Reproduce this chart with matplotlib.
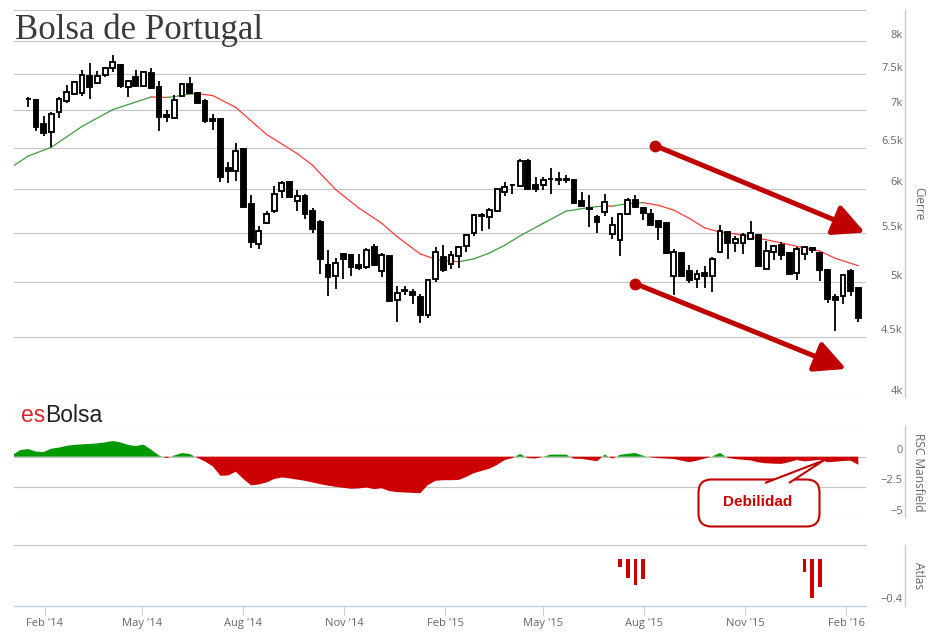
import matplotlib
matplotlib.use("Agg")
import matplotlib.pyplot as plt
import matplotlib.dates as mdates
import matplotlib.transforms as mtransforms
from matplotlib.patches import Rectangle, FancyBboxPatch, Polygon
from matplotlib.ticker import NullLocator
import numpy as np
import pandas as pd

# weekly candles, first week closing 2014-01-17
first_week = "2014-01-17"
opens = [7150, 7130, 6800, 6705, 6965, 7115, 7210, 7230, 7470, 7370,
         7485, 7585, 7635, 7310, 7455, 7335, 7520, 7315, 6930, 6890,
         7185, 7355, 7230, 7125, 6870, 6870, 6250, 6210, 6485, 5820,
         5390, 5610, 5750, 5970, 6075, 5860, 5915, 5750, 5625, 5170,
         5060, 5280, 5270, 5175, 5150, 5355, 5115, 5260, 4835, 4915,
         4905, 4860, 4690, 5030, 5250, 5185, 5260, 5365, 5505, 5685,
         5675, 5750, 5965, 6040, 6035, 6335, 6050, 6050, 6110, 6105,
         6105, 6100, 5860, 5780, 5680, 5740, 5495, 5430, 5710, 5870,
         5785, 5710, 5635, 5610, 5065, 5295, 5110, 5030, 5090, 5065,
         5305, 5515, 5400, 5395, 5445, 5480, 5135, 5310, 5380, 5295,
         5090, 5285, 5345, 5295, 5125, 4860, 4865, 5110, 4950]
highs = [7180, 7140, 6910, 6970, 7170, 7345, 7395, 7560, 7660, 7550,
         7610, 7790, 7650, 7415, 7560, 7550, 7585, 7395, 7000, 7195,
         7370, 7465, 7245, 7140, 6945, 6880, 6315, 6560, 6490, 5925,
         5580, 5750, 6030, 6090, 6090, 5990, 5935, 5780, 5645, 5325,
         5245, 5295, 5285, 5285, 5345, 5390, 5295, 5265, 4965, 4965,
         4935, 4890, 5030, 5355, 5380, 5320, 5365, 5495, 5710, 5720,
         5780, 6010, 6075, 6060, 6355, 6355, 6140, 6140, 6245, 6205,
         6160, 6105, 5960, 5925, 5700, 5935, 5680, 5720, 5895, 5930,
         5790, 5765, 5640, 5620, 5335, 5300, 5175, 5125, 5160, 5250,
         5590, 5520, 5475, 5500, 5630, 5495, 5420, 5380, 5405, 5305,
         5355, 5370, 5360, 5300, 5130, 4890, 5080, 5135, 4955]
lows = [7030, 6715, 6650, 6505, 6890, 7095, 7200, 7185, 7150, 7365,
        7455, 7535, 7300, 7175, 7325, 7325, 7285, 6715, 6835, 6890,
        7185, 7220, 7085, 6825, 6725, 6080, 6070, 6090, 5775, 5345,
        5335, 5600, 5720, 5895, 5895, 5750, 5655, 5510, 5080, 4870,
        4935, 5030, 5060, 5125, 5135, 5160, 5050, 4810, 4625, 4875,
        4795, 4620, 4665, 5005, 5105, 5135, 5140, 5310, 5470, 5525,
        5550, 5735, 5915, 5935, 6035, 5990, 5960, 5980, 5940, 6045,
        6070, 5840, 5800, 5575, 5510, 5685, 5445, 5260, 5700, 5785,
        5645, 5590, 5430, 5285, 4875, 5060, 4995, 4945, 4950, 4905,
        5295, 5230, 5310, 5285, 5430, 5150, 5130, 5220, 5220, 5080,
        5025, 5220, 5295, 5015, 4805, 4550, 4790, 4865, 4625]
closes = [7140, 6770, 6690, 6945, 7150, 7240, 7385, 7485, 7310, 7470,
          7585, 7675, 7325, 7405, 7335, 7535, 7300, 6905, 6895, 7130,
          7355, 7230, 7095, 6845, 6845, 6145, 6210, 6455, 5795, 5410,
          5525, 5710, 5945, 6070, 5900, 5915, 5710, 5550, 5230, 5050,
          5190, 5235, 5150, 5140, 5330, 5175, 5275, 4820, 4895, 4930,
          4875, 4690, 5025, 5310, 5125, 5275, 5355, 5480, 5700, 5705,
          5760, 5995, 6015, 6050, 6335, 5995, 6000, 6100, 6120, 6120,
          6120, 5840, 5805, 5765, 5625, 5850, 5590, 5710, 5865, 5795,
          5720, 5595, 5565, 5295, 5305, 5065, 5020, 5080, 5065, 5235,
          5525, 5395, 5440, 5480, 5510, 5160, 5320, 5370, 5270, 5080,
          5335, 5355, 5330, 5125, 4845, 4835, 5070, 4920, 4665]

# moving average of the close
ma_dates = ["2014-01-03", "2014-01-17", "2014-02-07", "2014-03-07", "2014-04-04",
            "2014-05-09", "2014-05-16", "2014-05-23", "2014-05-30", "2014-06-13",
            "2014-06-20", "2014-06-27", "2014-07-04", "2014-07-25", "2014-08-22",
            "2014-09-19", "2014-10-03", "2014-10-24", "2014-11-14", "2014-12-05",
            "2014-12-19", "2015-01-09", "2015-01-23", "2015-02-13", "2015-02-27",
            "2015-03-13", "2015-03-27", "2015-04-10", "2015-05-01", "2015-05-22",
            "2015-06-12", "2015-06-26", "2015-07-03", "2015-07-17", "2015-07-31",
            "2015-08-14", "2015-08-28", "2015-09-11", "2015-09-25", "2015-10-09",
            "2015-10-23", "2015-11-13", "2015-12-04", "2015-12-25", "2016-01-08",
            "2016-01-22", "2016-02-12"]
ma_values = [6270, 6395, 6505, 6775, 7000, 7175, 7170, 7168, 7180, 7215,
             7222, 7208, 7194, 7030, 6670, 6425, 6280, 5990, 5780, 5610,
             5465, 5285, 5230, 5205, 5235, 5295, 5375, 5475, 5610, 5745,
             5785, 5805, 5800, 5830, 5840, 5810, 5755, 5665, 5560, 5515,
             5495, 5450, 5400, 5345, 5315, 5240, 5165]

# RSC Mansfield, weekly from 2014-01-03
rsc_start = "2014-01-03"
rsc_values = [0.17, 0.55, 0.63, 0.42, 0.38, 0.66, 0.75, 0.9, 0.98, 1.02,
              1.06, 1.1, 1.18, 1.3, 1.18, 0.97, 0.88, 1.0, 0.58, 0.1,
              -0.11, 0.1, 0.3, 0.22, -0.1, -0.4, -0.8, -1.58, -1.56, -1.25,
              -1.85, -2.38, -2.3, -2.14, -1.85, -1.72, -1.8, -1.9, -2.0, -2.14,
              -2.28, -2.4, -2.5, -2.58, -2.66, -2.63, -2.56, -2.69, -2.62, -2.86,
              -2.93, -2.97, -3.0, -3.03, -2.35, -2.0, -1.95, -1.95, -1.93, -1.68,
              -1.36, -1.18, -1.0, -0.68, -0.28, -0.11, 0.22, -0.12, -0.15, 0.0,
              0.17, 0.17, 0.17, -0.17, -0.18, -0.28, -0.38, 0.17, -0.16, 0.15,
              0.24, 0.3, 0.08, -0.05, -0.12, -0.16, -0.19, -0.33, -0.46, -0.33,
              -0.15, 0.02, 0.31, -0.1, -0.2, -0.26, -0.31, -0.47, -0.55, -0.58,
              -0.6, -0.45, -0.28, -0.39, -0.33, -0.26, -0.46, -0.42, -0.36, -0.33,
              -0.67]

# Atlas signal bars
atlas_dates = ["2015-07-10", "2015-07-17", "2015-07-24", "2015-07-31",
               "2015-12-25", "2016-01-01", "2016-01-08"]
atlas_values = [-0.07, -0.16, -0.22, -0.17, -0.11, -0.33, -0.235]

price_ticks = [4000, 4500, 5000, 5500, 6000, 6500, 7000, 7500, 8000, 8500]
price_labels = ["4k", "4.5k", "5k", "5.5k", "6k", "6.5k", "7k", "7.5k", "8k", ""]
rsc_ticks = [2.5, 0, -2.5, -5]
rsc_labels = ["", "0", "\u22122.5", "\u22125"]
atlas_ticks = [-0.4]
atlas_labels = ["\u22120.4"]

# trend arrows (start date, start price, end date, end price)
arrows = [("2015-08-11", 6525, "2016-02-18", 5510),
          ("2015-07-24", 4988, "2016-02-01", 4225)]

W, H = 937, 635
fig = plt.figure(figsize=(W / 100, H / 100), dpi=100)
fig.patch.set_facecolor("white")

GRID = "#c4c4c4"
AXIS = "#c0d0e0"
LABEL = "#666666"
DARKRED = "#c00000"
FONT = ["Open Sans", "DejaVu Sans"]


def box(left, top, right, bottom):
    return [left / W, 1 - bottom / H, (right - left) / W, (bottom - top) / H]


ax = fig.add_axes(box(14, 9.9, 866, 397))
ax_rsc = fig.add_axes(box(14, 426.5, 866, 517), sharex=ax)
ax_at = fig.add_axes(box(14, 545, 866, 606), sharex=ax)

up_shift = mtransforms.ScaledTranslation(0, 6 / 100, fig.dpi_scale_trans)
label_x = (903 - 14) / 852

for a, ticks, labels in [(ax, price_ticks, price_labels),
                         (ax_rsc, rsc_ticks, rsc_labels),
                         (ax_at, atlas_ticks, atlas_labels)]:
    for s in ["left", "top", "bottom"]:
        a.spines[s].set_visible(False)
    a.spines["right"].set_position(("outward", 39 * 0.72))
    a.spines["right"].set_color(AXIS)
    a.spines["right"].set_linewidth(1.0)
    a.set_axisbelow(True)
    a.set_yticks(ticks)
    a.yaxis.grid(True, color=GRID, lw=0.8)
    a.tick_params(axis="y", length=0, labelleft=False, labelright=False)
    a.tick_params(axis="x", bottom=False, labelbottom=False)
    tr = a.get_yaxis_transform() + up_shift
    for t, lab in zip(ticks, labels):
        a.text(label_x, t, lab, transform=tr, ha="right", va="center",
               fontsize=8, color=LABEL, family=FONT)

# price panel
ax.set_yscale("log")
ax.yaxis.set_minor_locator(NullLocator())
ax.set_yticks(price_ticks)
ax.tick_params(axis="y", which="both", length=0, labelleft=False, labelright=False)
ax.set_ylim(4000, 8500)

cx = mdates.date2num(pd.date_range(first_week, periods=len(opens), freq="7D").to_pydatetime())
ax.vlines(cx, lows, highs, color="black", lw=1.3, zorder=3)
bw = 4.4
for xi, o, c in zip(cx, opens, closes):
    up = c >= o
    ax.add_patch(Rectangle((xi - bw / 2, min(o, c)), bw, max(abs(c - o), 1),
                           facecolor="white" if up else "black",
                           edgecolor="black", lw=1.35, zorder=4))

mx = mdates.date2num(pd.to_datetime(ma_dates).to_pydatetime())
for i in range(len(ma_values) - 1):
    col = "#3c9c3c" if ma_values[i + 1] >= ma_values[i] else "#ff3b3b"
    ax.plot(mx[i:i + 2], ma_values[i:i + 2], color=col, lw=0.9, zorder=2,
            solid_capstyle="round")

for d0, p0, d1, p1 in arrows:
    x0 = mdates.date2num(pd.Timestamp(d0).to_pydatetime())
    x1 = mdates.date2num(pd.Timestamp(d1).to_pydatetime())
    ax.annotate("", xy=(x1, p1), xytext=(x0, p0), annotation_clip=False,
                arrowprops=dict(arrowstyle="-|>,head_length=1.9,head_width=0.95",
                                mutation_scale=10, lw=3.6, color=DARKRED,
                                shrinkA=0, shrinkB=0, clip_on=False), zorder=6)
    ax.plot([x0], [p0], "o", ms=7.5, color=DARKRED, zorder=6, clip_on=False)

# RSC Mansfield panel
rx = mdates.date2num(pd.date_range(rsc_start, periods=len(rsc_values), freq="7D").to_pydatetime())
rv = np.array(rsc_values)
ax_rsc.fill_between(rx, 0, rv, where=rv >= 0, interpolate=True, color="#009900", lw=0, zorder=2)
ax_rsc.fill_between(rx, 0, rv, where=rv <= 0, interpolate=True, color="#cc0000", lw=0, zorder=2)
ax_rsc.set_ylim(-5, 2.5)

# Atlas panel
axx = mdates.date2num(pd.to_datetime(atlas_dates).to_pydatetime())
ax_at.bar(axx, atlas_values, width=3.5, color="#cc0000", zorder=2)
ax_at.set_ylim(-0.4, 0.122)
ax_at.yaxis.grid(False)
ax_at.spines["top"].set_visible(True)
ax_at.spines["top"].set_color(GRID)
ax_at.spines["top"].set_linewidth(0.8)
ax_at.spines["bottom"].set_visible(True)
ax_at.spines["bottom"].set_color(AXIS)
ax_at.spines["bottom"].set_linewidth(1.0)
ax_at.xaxis.set_major_locator(mdates.MonthLocator(bymonth=[2, 5, 8, 11]))
ax_at.xaxis.set_major_formatter(mdates.DateFormatter("%b '%y"))
ax_at.tick_params(axis="x", bottom=True, labelbottom=True, length=6.5, width=0.8,
                  color=AXIS, labelcolor=LABEL, labelsize=8, pad=2)
for lab in ax_at.get_xticklabels():
    lab.set_family(FONT)

ax.set_xlim(mdates.date2num(pd.Timestamp("2014-01-04").to_pydatetime()),
            mdates.date2num(pd.Timestamp("2016-02-19").to_pydatetime()))

# axis titles
for txt, y in [("Cierre", 204), ("RSC Mansfield", 472), ("Atlas", 576)]:
    fig.text(919 / W, 1 - y / H, txt, rotation=270, ha="center", va="center",
             fontsize=8.6, color=LABEL, family=FONT)

# titles
fig.text(15 / W, 1 - 39 / H, "Bolsa de Portugal", family="Liberation Serif",
         fontsize=25, color="#3a3a3a", va="baseline")
es = fig.text(21 / W, 1 - 421.5 / H, "es", family="Liberation Sans", fontsize=16.5,
              color="#d9262c", va="baseline")
ext = es.get_window_extent(renderer=fig.canvas.get_renderer())
fig.text(ext.x1 / W, 1 - 421.5 / H, "Bolsa", family="Liberation Sans", fontsize=16.5,
         color="#222222", va="baseline")

# "Debilidad" callout
px = mtransforms.Affine2D().scale(1, -1).translate(0, H)
fig.add_artist(FancyBboxPatch((698.5, 479.5), 121, 47,
                              boxstyle="round,pad=0,rounding_size=13",
                              transform=px, ec=DARKRED, fc="white", lw=1.5, zorder=7))
fig.add_artist(Polygon([(765, 483), (823.5, 460.5), (789, 483)], closed=False,
                       transform=px, ec=DARKRED, fc="white", lw=1.5, zorder=8))
fig.text(758 / W, 1 - 502 / H, "Debilidad", family="Liberation Sans", fontweight="bold",
         fontsize=11, color="#cc0000", ha="center", va="center", zorder=9)

fig.savefig("out.png", dpi=100, facecolor="white")
